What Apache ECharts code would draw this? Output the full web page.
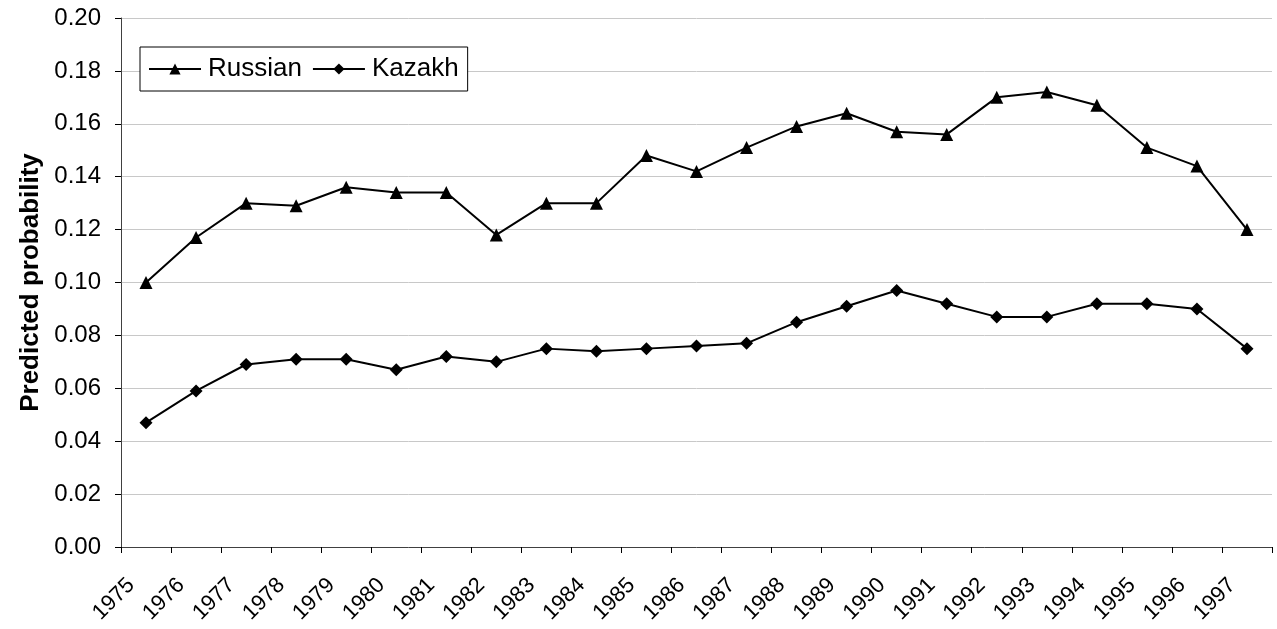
<!DOCTYPE html>
<html>
<head>
<meta charset="utf-8">
<script src="https://cdn.jsdelivr.net/npm/echarts@6/dist/echarts.min.js"></script>
<style>
html, body { margin: 0; padding: 0; background: #fff; }
#chart { width: 1277px; height: 629px; }
</style>
</head>
<body>
<div id="chart"></div>
<script>
// years on the category axis
var years = ['1975', '1976', '1977', '1978', '1979', '1980', '1981', '1982', '1983', '1984', '1985', '1986',
    '1987', '1988', '1989', '1990', '1991', '1992', '1993', '1994', '1995', '1996', '1997'];

// predicted probability
var russian = [0.100, 0.117, 0.130, 0.129, 0.136, 0.134, 0.134, 0.118, 0.130, 0.130, 0.148, 0.142,
    0.151, 0.159, 0.164, 0.157, 0.156, 0.170, 0.172, 0.167, 0.151, 0.144, 0.120];
var kazakh = [0.047, 0.059, 0.069, 0.071, 0.071, 0.067, 0.072, 0.070, 0.075, 0.074, 0.075, 0.076,
    0.077, 0.085, 0.091, 0.097, 0.092, 0.087, 0.087, 0.092, 0.092, 0.090, 0.075];

var font = 'Liberation Sans, Arial, sans-serif';
var myChart = echarts.init(document.getElementById('chart'));

var option = {
    animation: false,
    textStyle: { fontFamily: font },
    grid: { left: 121, right: 5, top: 18, bottom: 82, containLabel: false },
    legend: {
        left: 140,
        top: 47,
        orient: 'horizontal',
        backgroundColor: '#fff',
        borderColor: '#000',
        borderWidth: 1,
        padding: [9, 9, 9, 8],
        itemWidth: 52,
        itemHeight: 14,
        itemGap: 10,
        textStyle: { fontSize: 26, color: '#000', fontFamily: font, padding: [0, 0, 0, 2] },
        data: ['Russian', 'Kazakh']
    },
    xAxis: {
        type: 'category',
        data: years,
        boundaryGap: true,
        axisLine: { lineStyle: { color: '#404040', width: 1 } },
        axisTick: { show: true, length: 6, inside: false, lineStyle: { color: '#000' } },
        axisLabel: {
            rotate: 45, fontSize: 22, color: '#000', margin: 20, fontFamily: font,
            padding: [0, 21, 0, 0]
        }
    },
    yAxis: {
        type: 'value',
        min: 0,
        max: 0.2,
        interval: 0.02,
        name: 'Predicted probability',
        nameLocation: 'middle',
        nameGap: 68,
        nameTextStyle: { fontSize: 26, fontWeight: 'bold', color: '#000', fontFamily: font },
        axisLine: { show: true, lineStyle: { color: '#404040', width: 1 } },
        axisTick: { show: true, length: 6, lineStyle: { color: '#000' } },
        axisLabel: {
            fontSize: 24, color: '#000', margin: 20, fontFamily: font,
            formatter: function (v) { return v.toFixed(2); }
        },
        splitLine: { show: true, lineStyle: { color: '#c8c8c8', width: 1 } }
    },
    series: [
        {
            name: 'Russian',
            type: 'line',
            data: russian,
            symbol: 'triangle',
            symbolSize: 13,
            itemStyle: { color: '#000' },
            lineStyle: { color: '#000', width: 2 }
        },
        {
            name: 'Kazakh',
            type: 'line',
            data: kazakh,
            symbol: 'diamond',
            symbolSize: 13,
            itemStyle: { color: '#000' },
            lineStyle: { color: '#000', width: 2 }
        }
    ]
};

myChart.setOption(option);
</script>
</body>
</html>
